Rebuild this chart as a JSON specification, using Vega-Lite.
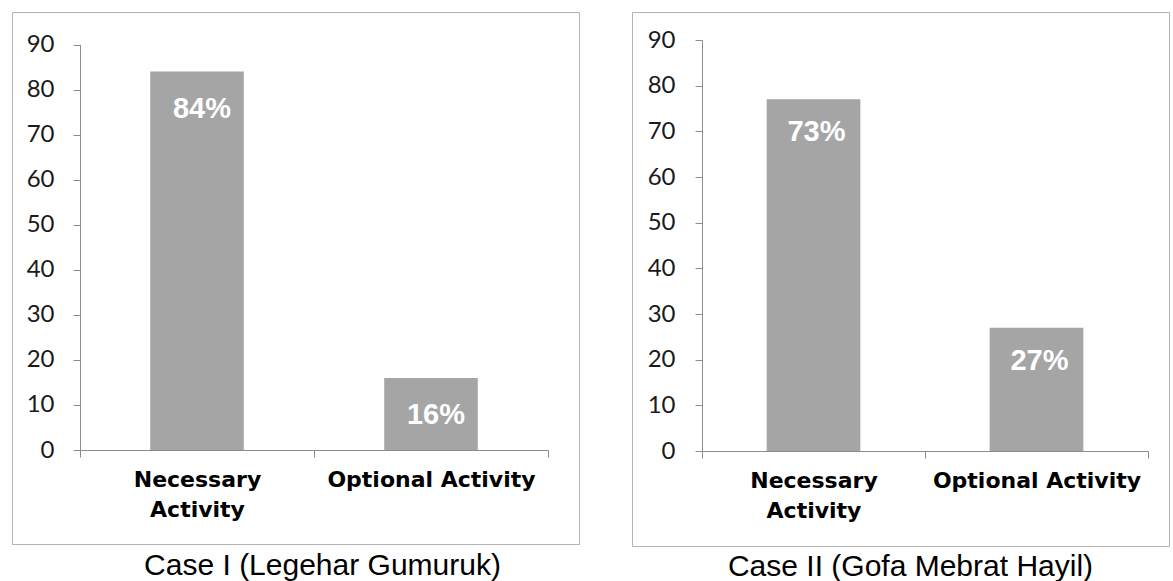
{
  "$schema": "https://vega.github.io/schema/vega-lite/v6.json",
  "padding": {"left": 11, "top": 11, "right": 7, "bottom": 0},
  "background": "white",
  "datasets": {
    "d": [
      {"case": "I", "activity": "Necessary Activity", "value": 84, "label": "84%"},
      {"case": "I", "activity": "Optional Activity", "value": 16, "label": "16%"},
      {"case": "II", "activity": "Necessary Activity", "value": 77, "label": "73%"},
      {"case": "II", "activity": "Optional Activity", "value": 27, "label": "27%"}
    ]
  },
  "data": {"name": "d"},
  "spacing": 51,
  "config": {
    "view": {"stroke": "#b3b3b3", "strokeWidth": 1},
    "axis": {"grid": false, "title": null, "domainColor": "#8c8c8c", "tickColor": "#8c8c8c", "tickSize": 7}
  },
  "hconcat": [
    {
      "width": 567,
      "height": 532,
      "title": {"text": "Case I (Legehar Gumuruk)", "orient": "bottom", "font": "Liberation Sans", "fontSize": 30, "fontWeight": "normal", "color": "#000000", "dx": 27, "offset": 7, "baseline": "top"},
      "transform": [{"filter": "datum.case == 'I'"}],
      "encoding": {
        "x": {
          "field": "activity", "type": "nominal", "sort": null,
          "scale": {"range": [68, 536], "paddingInner": 0, "paddingOuter": 0},
          "axis": {"offset": -94, "labelAngle": 0, "tickBand": "extent", "labelLimit": 400, "labelExpr": "datum.label == 'Necessary Activity' ? ['Necessary', 'Activity'] : datum.label", "labelFont": "DejaVu Sans", "labelFontWeight": "bold", "labelFontSize": 22, "labelColor": "#000000", "labelPadding": 12, "labelLineHeight": 30}
        },
        "y": {
          "field": "value", "type": "quantitative",
          "scale": {"domain": [0, 90], "range": [438, 32.5], "nice": false},
          "axis": {"offset": -68, "values": [0, 10, 20, 30, 40, 50, 60, 70, 80, 90], "labelFont": "Lato", "labelFontSize": 24, "labelColor": "#1a1a1a", "labelPadding": 19}
        }
      },
      "layer": [
        {"mark": {"type": "bar", "color": "#a5a5a5", "width": {"band": 0.4}}},
        {"mark": {"type": "text", "color": "white", "font": "Liberation Sans", "fontWeight": "bold", "fontSize": 29, "baseline": "middle", "dy": 37, "dx": 5}, "encoding": {"text": {"field": "label"}}}
      ]
    },
    {
      "width": 537,
      "height": 534,
      "title": {"text": "Case II (Gofa Mebrat Hayil)", "orient": "bottom", "font": "Liberation Sans", "fontSize": 30, "fontWeight": "normal", "color": "#000000", "dx": 10, "offset": 6, "baseline": "top"},
      "transform": [{"filter": "datum.case == 'II'"}],
      "encoding": {
        "x": {
          "field": "activity", "type": "nominal", "sort": null,
          "scale": {"range": [70, 516], "paddingInner": 0, "paddingOuter": 0},
          "axis": {"offset": -95, "labelAngle": 0, "tickBand": "extent", "labelLimit": 400, "labelExpr": "datum.label == 'Necessary Activity' ? ['Necessary', 'Activity'] : datum.label", "labelFont": "DejaVu Sans", "labelFontWeight": "bold", "labelFontSize": 22, "labelColor": "#000000", "labelPadding": 12, "labelLineHeight": 30}
        },
        "y": {
          "field": "value", "type": "quantitative",
          "scale": {"domain": [0, 90], "range": [439, 28], "nice": false},
          "axis": {"offset": -70, "values": [0, 10, 20, 30, 40, 50, 60, 70, 80, 90], "labelFont": "Lato", "labelFontSize": 24, "labelColor": "#1a1a1a", "labelPadding": 20}
        }
      },
      "layer": [
        {"mark": {"type": "bar", "color": "#a5a5a5", "width": {"band": 0.42}}},
        {"mark": {"type": "text", "color": "white", "font": "Liberation Sans", "fontWeight": "bold", "fontSize": 29, "baseline": "middle", "dy": 33, "dx": 3}, "encoding": {"text": {"field": "label"}}}
      ]
    }
  ]
}
